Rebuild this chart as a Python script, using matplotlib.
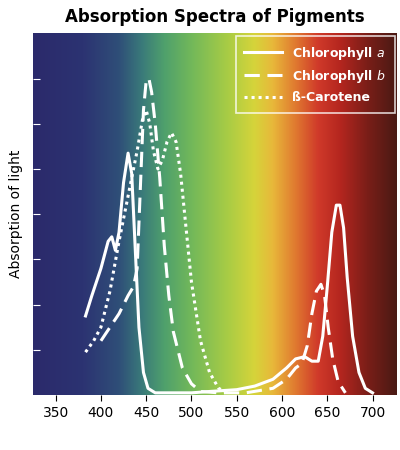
import numpy as np
import matplotlib.pyplot as plt
from matplotlib.colors import LinearSegmentedColormap

chl_a_x = [383, 390, 400, 408, 412, 416, 420, 425, 430, 434, 438, 442, 447, 452, 460, 480, 500, 520, 550, 570, 590, 605, 615, 625, 633, 640, 645, 650, 655, 660, 664, 668, 672, 678, 685, 692, 700]
chl_a_y = [1.75, 2.2, 2.8, 3.4, 3.5, 3.2, 3.6, 4.7, 5.35, 4.9, 3.2, 1.5, 0.5, 0.15, 0.05, 0.05, 0.05, 0.08, 0.12, 0.2, 0.35, 0.6, 0.8, 0.85, 0.75, 0.75, 1.3, 2.4, 3.6, 4.2, 4.2, 3.7, 2.6, 1.3, 0.5, 0.15, 0.05]

chl_b_x = [400, 410, 420, 430, 436, 440, 444, 447, 450, 453, 456, 460, 465, 470, 475, 480, 490, 500, 510, 530, 560, 590, 605, 615, 622, 628, 633, 638, 643, 647, 651, 656, 662, 670]
chl_b_y = [1.2, 1.5, 1.8, 2.2, 2.4, 2.8, 4.8, 6.3, 6.95, 7.0, 6.7, 6.0, 4.8, 3.3, 2.2, 1.4, 0.6, 0.25, 0.08, 0.05, 0.05, 0.15, 0.35, 0.6, 0.7, 1.1, 1.8, 2.3, 2.45, 2.2, 1.5, 0.8, 0.3, 0.05]

car_x = [383, 392, 400, 410, 420, 430, 440, 446, 450, 454, 458, 463, 468, 473, 478, 483, 488, 493, 500, 510, 520, 530, 540]
car_y = [0.95, 1.2, 1.5, 2.3, 3.4, 4.4, 5.4, 6.1, 6.3, 6.0, 5.4, 5.0, 5.2, 5.6, 5.8, 5.6, 4.9, 3.9, 2.5, 1.2, 0.5, 0.15, 0.05]

xticks = [350, 400, 450, 500, 550, 600, 650, 700]

fig = plt.figure(figsize=(4, 4.5), dpi=100)
ax = fig.add_axes([0.0825, 0.122, 0.91, 0.804])
xmin, xmax, ymin, ymax = 325, 727, 0, 8

cols = [(325, '#2b2a6b'), (380, '#2c3372'), (420, '#2f4f78'), (445, '#3a7a7a'),
        (470, '#4fa06c'), (500, '#72b85a'), (540, '#a8cc45'), (570, '#d6d43a'),
        (590, '#e8b83a'), (615, '#e07a30'), (640, '#d03a2a'), (665, '#b4261f'),
        (695, '#7a1e18'), (727, '#4a1a14')]
cmap = LinearSegmentedColormap.from_list('spec', [((w - 325) / (727 - 325), c) for w, c in cols])
ax.imshow(np.linspace(0, 1, 512)[None, :], cmap=cmap, aspect='auto',
          extent=[xmin, xmax, ymin, ymax], zorder=0)

ax.plot(chl_a_x, chl_a_y, color='white', lw=2.2, ls='-', label=r'Chlorophyll $\it{a}$')
ax.plot(chl_b_x, chl_b_y, color='white', lw=2.2, ls=(0, (5, 2.5)), label=r'Chlorophyll $\it{b}$')
ax.plot(car_x, car_y, color='white', lw=2.2, ls=(0, (1, 1.3)), label='ß-Carotene')

ax.set_xlim(xmin, xmax)
ax.set_ylim(ymin, ymax)
ax.set_xticks(xticks)
ax.set_yticks(range(1, 8))
ax.set_yticklabels([])
ax.tick_params(axis='y', direction='in', colors='white', length=5)
ax.tick_params(axis='x', labelsize=10, length=4)
for s in ax.spines.values():
    s.set_visible(False)
ax.set_ylabel('Absorption of light', fontsize=10)
ax.set_title('Absorption Spectra of Pigments', fontsize=12, fontweight='bold', pad=8)
leg = ax.legend(loc='upper right', frameon=True, fontsize=9, handlelength=3,
                borderaxespad=0.5)
leg.get_frame().set_facecolor('none')
leg.get_frame().set_edgecolor('white')
leg.get_frame().set_linewidth(1.2)
leg.get_frame().set_boxstyle('square')
for t in leg.get_texts():
    t.set_color('white')
    t.set_fontweight('bold')

fig.savefig('out.png', dpi=100)
